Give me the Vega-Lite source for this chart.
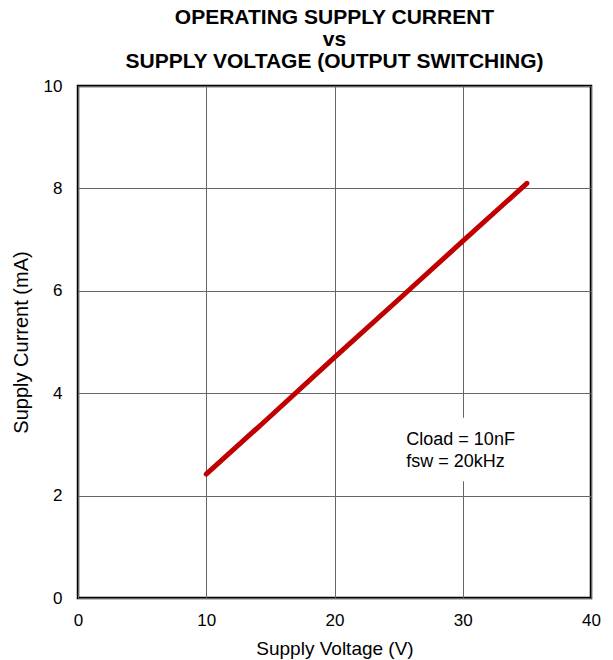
{
  "$schema": "https://vega.github.io/schema/vega-lite/v6.json",
  "autosize": "none",
  "width": 513,
  "height": 512,
  "padding": {"left": 78, "top": 86, "right": 22, "bottom": 62},
  "background": "white",
  "title": {
    "text": ["OPERATING SUPPLY CURRENT", "vs", "SUPPLY VOLTAGE (OUTPUT SWITCHING)"],
    "font": "Liberation Sans",
    "fontSize": 21,
    "fontWeight": "bold",
    "lineHeight": 22,
    "anchor": "middle",
    "frame": "group",
    "offset": 5,
    "color": "black"
  },
  "config": {
    "view": {"stroke": "black", "strokeWidth": 2.5},
    "axis": {
      "labelFont": "Liberation Sans",
      "labelFontSize": 17,
      "labelColor": "black",
      "titleFont": "Liberation Sans",
      "titleFontSize": 19,
      "titleFontWeight": "normal",
      "titleColor": "black",
      "grid": true,
      "gridColor": "#666666",
      "gridWidth": 1,
      "gridOpacity": 1,
      "domain": false,
      "ticks": false,
      "tickSize": 0
    }
  },
  "datasets": {
    "curve": [
      {"v": 10, "i": 2.42},
      {"v": 15, "i": 3.55},
      {"v": 20, "i": 4.7},
      {"v": 25, "i": 5.83},
      {"v": 26, "i": 6.06},
      {"v": 30, "i": 6.97},
      {"v": 35, "i": 8.1}
    ],
    "box": [{"x1": 25.0, "x2": 35.0, "y1": 2.28, "y2": 3.52}],
    "notes": [
      {"x": 25.6, "y": 2.99, "t": "Cload = 10nF"},
      {"x": 25.6, "y": 2.56, "t": "fsw = 20kHz"}
    ]
  },
  "layer": [
    {
      "data": {"name": "curve"},
      "mark": {"type": "line", "color": "#c00000", "strokeWidth": 5, "strokeCap": "round", "strokeJoin": "round"},
      "encoding": {
        "x": {
          "field": "v", "type": "quantitative",
          "scale": {"domain": [0, 40], "nice": false, "zero": false},
          "axis": {"values": [0, 10, 20, 30, 40], "title": "Supply Voltage (V)", "labelPadding": 14, "titlePadding": 11, "labelFlush": false}
        },
        "y": {
          "field": "i", "type": "quantitative",
          "scale": {"domain": [0, 10], "nice": false, "zero": false},
          "axis": {"values": [0, 2, 4, 6, 8, 10], "title": "Supply Current (mA)", "titleFontSize": 20, "labelPadding": 16, "titlePadding": 12, "labelFlush": false}
        }
      }
    },
    {
      "data": {"name": "box"},
      "mark": {"type": "rect", "fill": "white"},
      "encoding": {
        "x": {"field": "x1", "type": "quantitative"},
        "x2": {"field": "x2"},
        "y": {"field": "y1", "type": "quantitative"},
        "y2": {"field": "y2"}
      }
    },
    {
      "data": {"name": "notes"},
      "mark": {"type": "text", "align": "left", "baseline": "alphabetic", "font": "Liberation Sans", "fontSize": 18, "color": "black"},
      "encoding": {
        "x": {"field": "x", "type": "quantitative"},
        "y": {"field": "y", "type": "quantitative"},
        "text": {"field": "t"}
      }
    }
  ]
}
